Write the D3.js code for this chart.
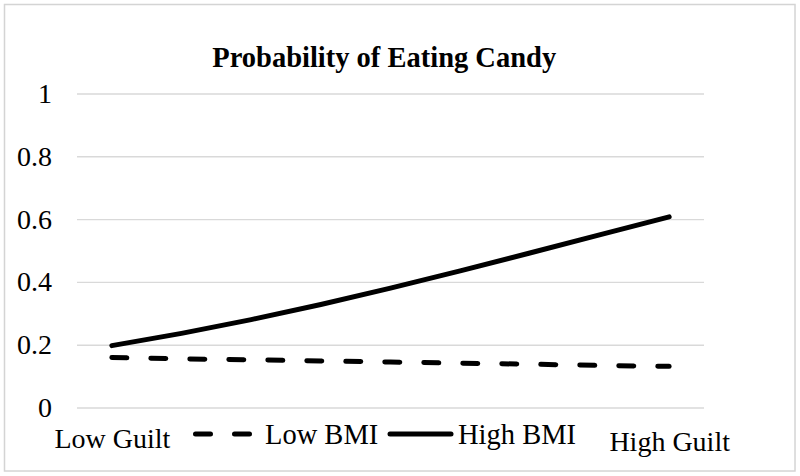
<!DOCTYPE html>
<html>
<head>
<meta charset="utf-8">
<script src="https://cdn.jsdelivr.net/npm/d3@7"></script>
<style>
  html, body { margin: 0; padding: 0; background: #fff; }
  svg { display: block; }
  text { font-family: "Liberation Serif", "Times New Roman", serif; fill: #000; }
</style>
</head>
<body>
<svg id="chart" width="800" height="476"></svg>
<script>
// ---- data ----
const title = "Probability of Eating Candy";
const guiltLevels = [0, 1, 2, 3, 4, 5, 6, 7, 8];
const guiltLabels = ["Low Guilt", "", "", "", "", "", "", "", "High Guilt"];
const lowBMI  = [0.159, 0.155, 0.152, 0.148, 0.145, 0.141, 0.138, 0.134, 0.131];
const highBMI = [0.197, 0.236, 0.280, 0.328, 0.380, 0.435, 0.492, 0.550, 0.607];
const yTicks = [0, 0.2, 0.4, 0.6, 0.8, 1];
const seriesNames = ["Low BMI", "High BMI"];

// ---- layout ----
const W = 800, H = 476;
const plot = { left: 77, right: 704, top: 93.5, bottom: 407.5 };
const svg = d3.select("#chart");

svg.append("rect").attr("x", 0).attr("y", 0).attr("width", W).attr("height", H).attr("fill", "#fff");
svg.append("rect")
  .attr("x", 4.5).attr("y", 4.5).attr("width", 790.5).attr("height", 466.5)
  .attr("fill", "none").attr("stroke", "#d4d4d4").attr("stroke-width", 1.5);

const x = d3.scalePoint().domain(guiltLevels).range([plot.left, plot.right]).padding(0.5);
const y = d3.scaleLinear().domain([0, 1]).range([plot.bottom, plot.top]);

// y axis with gridlines
const yAxis = svg.append("g")
  .attr("transform", `translate(${plot.left},0)`)
  .call(d3.axisLeft(y).tickValues(yTicks).tickFormat(d3.format("~g"))
    .tickSize(-(plot.right - plot.left)).tickPadding(25));
yAxis.select(".domain").remove();
yAxis.selectAll(".tick line").attr("stroke", "#d9d9d9").attr("stroke-width", 1.4);
yAxis.selectAll(".tick text")
  .style("font-family", '"Liberation Serif", "Times New Roman", serif')
  .attr("font-size", 28).attr("fill", "#000");

// x axis labels
const xAxis = svg.append("g")
  .attr("transform", `translate(0,${plot.bottom})`)
  .call(d3.axisBottom(x).tickSize(0).tickPadding(20.6).tickFormat((d, i) => guiltLabels[i]));
xAxis.select(".domain").remove();
xAxis.selectAll(".tick text")
  .style("font-family", '"Liberation Serif", "Times New Roman", serif')
  .attr("font-size", 28).attr("fill", "#000");
xAxis.selectAll(".tick").filter(d => d === guiltLevels[guiltLevels.length - 1])
  .select("text").attr("dy", "0.82em");

// title
svg.append("text")
  .attr("x", 384.2).attr("y", 67.3)
  .attr("text-anchor", "middle")
  .attr("font-size", 28.5).attr("font-weight", "bold")
  .text(title);

// lines
const line = d3.line().x((d, i) => x(guiltLevels[i])).y(d => y(d));
svg.append("path").datum(highBMI)
  .attr("d", line).attr("fill", "none").attr("stroke", "#000")
  .attr("stroke-width", 5).attr("stroke-linecap", "round").attr("stroke-linejoin", "round");
svg.append("path").datum(lowBMI)
  .attr("d", line).attr("fill", "none").attr("stroke", "#000")
  .attr("stroke-width", 5).attr("stroke-linecap", "round")
  .attr("stroke-dasharray", "15,24");

// legend
const ly = 434;
svg.append("line").attr("x1", 195.5).attr("x2", 249.5).attr("y1", ly).attr("y2", ly)
  .attr("stroke", "#000").attr("stroke-width", 5).attr("stroke-linecap", "round")
  .attr("stroke-dasharray", "15,24");
svg.append("text").attr("x", 265).attr("y", 443.5).attr("font-size", 28.5).text(seriesNames[0]);
svg.append("line").attr("x1", 390).attr("x2", 451).attr("y1", ly).attr("y2", ly)
  .attr("stroke", "#000").attr("stroke-width", 5).attr("stroke-linecap", "round");
svg.append("text").attr("x", 458).attr("y", 443.5).attr("font-size", 28.5).text(seriesNames[1]);
</script>
</body>
</html>
